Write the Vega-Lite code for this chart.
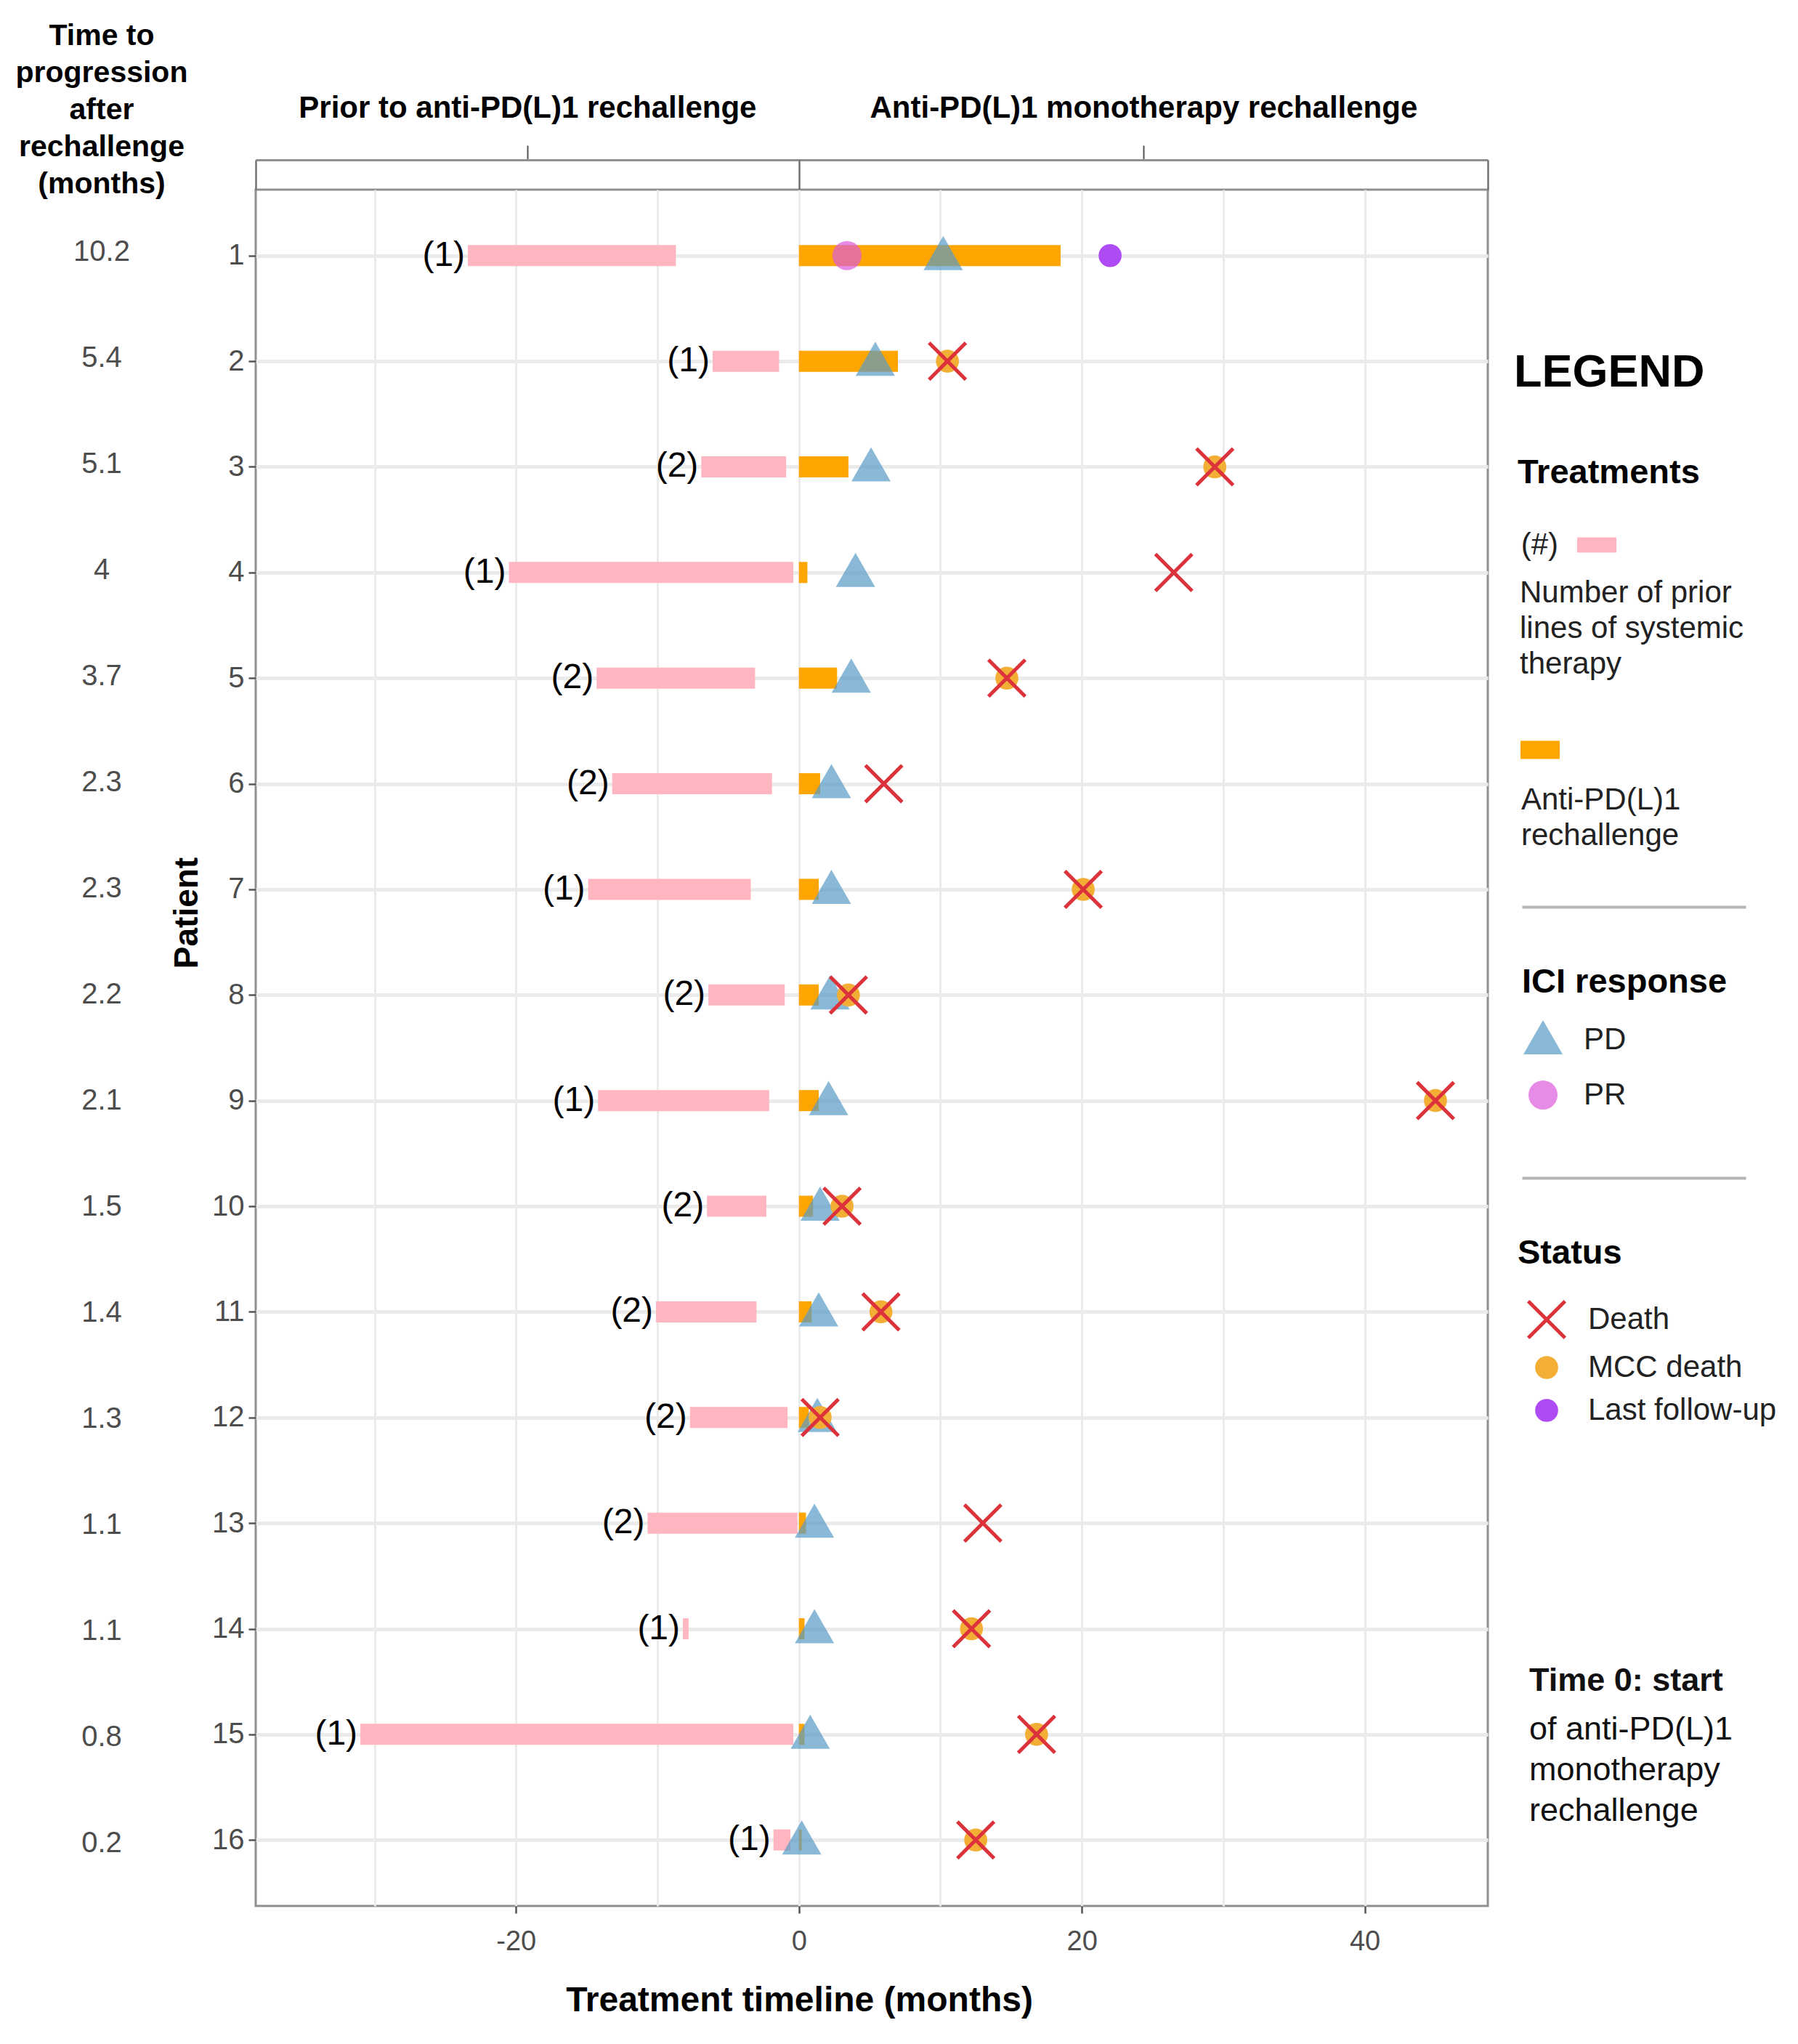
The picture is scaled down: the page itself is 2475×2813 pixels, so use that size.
{
  "$schema": "https://vega.github.io/schema/vega-lite/v6.json",
  "background": "white",
  "padding": {"left": 21, "top": 29, "right": 5, "bottom": 5},
  "config": {
    "font": "Liberation Sans",
    "view": {"stroke": null},
    "axis": {"labelFont": "Liberation Sans", "titleFont": "Liberation Sans"},
    "legend": {"titleFont": "Liberation Sans", "labelFont": "Liberation Sans", "titleFontSize": 47, "titleFontWeight": "bold", "titleColor": "#000000", "labelFontSize": 42, "labelColor": "#222222", "labelLimit": 600, "titleLimit": 600, "padding": 0},
    "title": {"font": "Liberation Sans", "color": "#000000", "subtitleFont": "Liberation Sans"}
  },
  "datasets": {
    "patients": [
      {"p": 1, "ttp": 10.2, "lines": "(1)", "pre_start": -23.4, "pre_end": -8.7, "ici_start": 0, "ici_end": 18.5},
      {"p": 2, "ttp": 5.4, "lines": "(1)", "pre_start": -6.1, "pre_end": -1.4, "ici_start": 0, "ici_end": 7.0},
      {"p": 3, "ttp": 5.1, "lines": "(2)", "pre_start": -6.9, "pre_end": -0.9, "ici_start": 0, "ici_end": 3.5},
      {"p": 4, "ttp": 4, "lines": "(1)", "pre_start": -20.5, "pre_end": -0.4, "ici_start": 0, "ici_end": 0.6},
      {"p": 5, "ttp": 3.7, "lines": "(2)", "pre_start": -14.3, "pre_end": -3.1, "ici_start": 0, "ici_end": 2.7},
      {"p": 6, "ttp": 2.3, "lines": "(2)", "pre_start": -13.2, "pre_end": -1.9, "ici_start": 0, "ici_end": 1.5},
      {"p": 7, "ttp": 2.3, "lines": "(1)", "pre_start": -14.9, "pre_end": -3.4, "ici_start": 0, "ici_end": 1.4},
      {"p": 8, "ttp": 2.2, "lines": "(2)", "pre_start": -6.4, "pre_end": -1.0, "ici_start": 0, "ici_end": 1.4},
      {"p": 9, "ttp": 2.1, "lines": "(1)", "pre_start": -14.2, "pre_end": -2.1, "ici_start": 0, "ici_end": 1.4},
      {"p": 10, "ttp": 1.5, "lines": "(2)", "pre_start": -6.5, "pre_end": -2.3, "ici_start": 0, "ici_end": 1.0},
      {"p": 11, "ttp": 1.4, "lines": "(2)", "pre_start": -10.1, "pre_end": -3.0, "ici_start": 0, "ici_end": 0.9},
      {"p": 12, "ttp": 1.3, "lines": "(2)", "pre_start": -7.7, "pre_end": -0.8, "ici_start": 0, "ici_end": 0.7},
      {"p": 13, "ttp": 1.1, "lines": "(2)", "pre_start": -10.7, "pre_end": -0.1, "ici_start": 0, "ici_end": 0.5},
      {"p": 14, "ttp": 1.1, "lines": "(1)", "pre_start": -8.2, "pre_end": -7.8, "ici_start": 0, "ici_end": 0.4},
      {"p": 15, "ttp": 0.8, "lines": "(1)", "pre_start": -31.0, "pre_end": -0.4, "ici_start": 0, "ici_end": 0.4},
      {"p": 16, "ttp": 0.2, "lines": "(1)", "pre_start": -1.8, "pre_end": -0.6, "ici_start": 0, "ici_end": 0.2}
    ],
    "resp": [
      {"p": 1, "x": 3.4, "response": "PR"},
      {"p": 1, "x": 10.2, "response": "PD"},
      {"p": 2, "x": 5.4, "response": "PD"},
      {"p": 3, "x": 5.1, "response": "PD"},
      {"p": 4, "x": 4.0, "response": "PD"},
      {"p": 5, "x": 3.7, "response": "PD"},
      {"p": 6, "x": 2.3, "response": "PD"},
      {"p": 7, "x": 2.3, "response": "PD"},
      {"p": 8, "x": 2.2, "response": "PD"},
      {"p": 9, "x": 2.1, "response": "PD"},
      {"p": 10, "x": 1.5, "response": "PD"},
      {"p": 11, "x": 1.4, "response": "PD"},
      {"p": 12, "x": 1.3, "response": "PD"},
      {"p": 13, "x": 1.1, "response": "PD"},
      {"p": 14, "x": 1.1, "response": "PD"},
      {"p": 15, "x": 0.8, "response": "PD"},
      {"p": 16, "x": 0.2, "response": "PD"}
    ],
    "status": [
      {"p": 2, "x": 10.5, "status": "MCC death"},
      {"p": 3, "x": 29.4, "status": "MCC death"},
      {"p": 5, "x": 14.7, "status": "MCC death"},
      {"p": 7, "x": 20.1, "status": "MCC death"},
      {"p": 8, "x": 3.5, "status": "MCC death"},
      {"p": 9, "x": 45.0, "status": "MCC death"},
      {"p": 10, "x": 3.05, "status": "MCC death"},
      {"p": 11, "x": 5.8, "status": "MCC death"},
      {"p": 12, "x": 1.5, "status": "MCC death"},
      {"p": 14, "x": 12.2, "status": "MCC death"},
      {"p": 15, "x": 16.8, "status": "MCC death"},
      {"p": 16, "x": 12.5, "status": "MCC death"},
      {"p": 2, "x": 10.5, "status": "Death"},
      {"p": 3, "x": 29.4, "status": "Death"},
      {"p": 4, "x": 26.5, "status": "Death"},
      {"p": 5, "x": 14.7, "status": "Death"},
      {"p": 6, "x": 6.0, "status": "Death"},
      {"p": 7, "x": 20.1, "status": "Death"},
      {"p": 8, "x": 3.5, "status": "Death"},
      {"p": 9, "x": 45.0, "status": "Death"},
      {"p": 10, "x": 3.05, "status": "Death"},
      {"p": 11, "x": 5.8, "status": "Death"},
      {"p": 12, "x": 1.5, "status": "Death"},
      {"p": 13, "x": 13.0, "status": "Death"},
      {"p": 14, "x": 12.2, "status": "Death"},
      {"p": 15, "x": 16.8, "status": "Death"},
      {"p": 16, "x": 12.5, "status": "Death"},
      {"p": 1, "x": 22.0, "status": "Last follow-up"}
    ]
  },
  "title": {"text": "LEGEND", "anchor": "start", "frame": "group", "align": "left", "offset": 0, "dx": 2034, "dy": 516, "fontSize": 63, "fontWeight": "bold", "color": "#000000"},
  "bounds": "flush",
  "spacing": 122,
  "hconcat": [
    {
      "width": 180,
      "height": 2362,
      "data": {"name": "patients"},
      "title": {"text": ["Time to", "progression", "after", "rechallenge", "(months)"], "anchor": "middle", "fontSize": 41, "fontWeight": "bold", "lineHeight": 51, "offset": -14, "color": "#000000"},
      "mark": {"type": "text", "fontSize": 40, "color": "#4D4D4D", "baseline": "middle"},
      "encoding": {
        "y": {"field": "p", "type": "quantitative", "scale": {"domain": [0.41, 16.59], "reverse": true, "nice": false, "zero": false}, "axis": null},
        "text": {"field": "ttp", "type": "nominal"}
      }
    },
    {
      "width": 1696,
      "height": 2362,
      "view": {"stroke": "#8F8F8F", "strokeWidth": 3},
      "title": {"text": "Time 0: start", "subtitle": ["of anti-PD(L)1", "monotherapy", "rechallenge"], "orient": "bottom", "anchor": "end", "frame": "group", "align": "left", "dx": 57, "dy": -490, "fontSize": 45, "fontWeight": "bold", "color": "#111111", "subtitleFontSize": 45, "subtitleColor": "#111111", "subtitleLineHeight": 56, "subtitlePadding": 22},
      "layer": [
        {
          "data": {"name": "patients"},
          "mark": {"type": "bar", "size": 29},
          "encoding": {
            "y": {"field": "p", "type": "quantitative", "scale": {"domain": [0.41, 16.59], "reverse": true, "nice": false, "zero": false},
              "axis": {"orient": "left", "title": "Patient", "values": [1, 2, 3, 4, 5, 6, 7, 8, 9, 10, 11, 12, 13, 14, 15, 16], "format": "d", "domain": false, "grid": true, "gridColor": "#EBEBEB", "gridWidth": 5, "ticks": true, "tickSize": 10, "tickWidth": 2.5, "tickColor": "#555555", "labelFontSize": 40, "labelColor": "#4D4D4D", "labelPadding": 6, "titleFontSize": 46, "titleFontWeight": "bold", "titleColor": "#000000", "titlePadding": 10, "titleY": 995}},
            "x": {"field": "pre_start", "type": "quantitative", "scale": {"domain": [-38.4, 48.7], "nice": false, "zero": false},
              "axis": {"orient": "top", "offset": 41, "values": [-19.2, 24.35], "labelExpr": "datum.value < 0 ? 'Prior to anti-PD(L)1 rechallenge' : 'Anti-PD(L)1 monotherapy rechallenge'", "grid": false, "domain": true, "domainColor": "#8F8F8F", "domainWidth": 3, "tickSize": 20, "tickWidth": 2, "tickColor": "#555555", "labelFontSize": 42, "labelFontWeight": "bold", "labelColor": "#000000", "labelPadding": 30, "labelLimit": 1200, "labelOverlap": false, "labelFlush": false, "title": null}},
            "x2": {"field": "pre_end"},
            "color": {"datum": "(#)", "scale": {"range": ["#FFB6C1"]},
              "legend": {"title": "Treatments", "orient": "none", "legendX": 1737, "legendY": 367, "symbolType": "M-1,-0.39H1V0.39H-1Z", "symbolSize": 2916, "symbolOffset": 81, "labelAlign": "right", "labelOffset": -81, "titlePadding": 47}}
          }
        },
        {
          "data": {"name": "patients"},
          "mark": {"type": "bar", "size": 29},
          "encoding": {
            "y": {"field": "p", "type": "quantitative", "scale": {"domain": [0.41, 16.59], "reverse": true, "nice": false, "zero": false},
              "axis": {"orient": "right", "offset": 47, "values": [7.164, 9.733], "labels": false, "domain": false, "grid": false, "ticks": true, "tickSize": 308, "tickWidth": 4, "tickColor": "#B5B5B5", "title": null}},
            "x": {"field": "ici_start", "type": "quantitative", "scale": {"domain": [-38.4, 48.7], "nice": false, "zero": false},
              "axis": {"orient": "top", "offset": 0, "values": [-38.4, 0, 48.7], "labels": false, "domain": false, "grid": false, "tickSize": 41, "tickWidth": 2.5, "tickColor": "#707070", "title": null}},
            "x2": {"field": "ici_end"},
            "color": {"datum": "Anti-PD(L)1 rechallenge", "scale": {"range": ["#FFA500"]},
              "legend": {"title": ["Number of prior", "lines of systemic", "therapy"], "titleFontWeight": "normal", "titleFontSize": 42, "titleColor": "#222222", "titleLineHeight": 49, "orient": "none", "legendX": 1740, "legendY": 535, "symbolType": "M-1,-0.46H1V0.46H-1Z", "symbolSize": 2916, "symbolOffset": 0, "labelBaseline": "top", "labelAlign": "left", "labelOffset": -54, "labelExpr": "['', 'Anti-PD(L)1', 'rechallenge']", "titlePadding": 68,
                "encode": {"labels": {"update": {"lineHeight": {"value": 49}}}}}}
          }
        },
        {
          "data": {"name": "patients"},
          "mark": {"type": "text", "align": "right", "baseline": "middle", "dx": -4, "fontSize": 48, "color": "#000000"},
          "encoding": {
            "y": {"field": "p", "type": "quantitative", "scale": {"domain": [0.41, 16.59], "reverse": true, "nice": false, "zero": false}, "axis": null},
            "x": {"field": "pre_start", "type": "quantitative", "scale": {"domain": [-38.4, 48.7], "nice": false, "zero": false}, "axis": null},
            "text": {"field": "lines", "type": "nominal"}
          }
        },
        {
          "data": {"name": "resp"},
          "mark": {"type": "point", "filled": true, "opacity": 0.7, "size": 1600},
          "encoding": {
            "y": {"field": "p", "type": "quantitative", "scale": {"domain": [0.41, 16.59], "reverse": true, "nice": false, "zero": false}, "axis": null},
            "x": {"field": "x", "type": "quantitative", "scale": {"domain": [-38.4, 48.7], "nice": false, "zero": false},
              "axis": {"orient": "bottom", "values": [-30, -20, -10, 0, 10, 20, 30, 40], "labelExpr": "datum.value % 20 === 0 ? '' + datum.value : ''", "grid": true, "gridColor": "#EBEBEB", "gridWidth": 3, "domain": false, "tickSize": 10, "tickWidth": 2.5, "tickColor": "#555555", "tickOpacity": {"condition": {"test": "datum.value % 20 !== 0", "value": 0}, "value": 1}, "labelFontSize": 38, "labelColor": "#4D4D4D", "labelPadding": 20, "title": "Treatment timeline (months)", "titleFontSize": 48, "titleFontWeight": "bold", "titleColor": "#000000", "titlePadding": 38, "titleX": 748}},
            "shape": {"field": "response", "type": "nominal", "scale": {"domain": ["PD", "PR"], "range": ["M0,-1.35L1.35,1L-1.35,1Z", "circle"]},
              "legend": {"title": "ICI response", "orient": "none", "legendX": 1743, "legendY": 1068, "symbolSize": 1600, "symbolOffset": 8, "labelOffset": 35, "titlePadding": 34, "rowPadding": 34}},
            "color": {"field": "response", "type": "nominal", "scale": {"domain": ["PD", "PR"], "range": ["#589BC6", "#DB5BDB"]},
              "legend": {"title": "ICI response", "orient": "none", "legendX": 1743, "legendY": 1068, "symbolSize": 1600, "symbolOffset": 8, "labelOffset": 35, "titlePadding": 34, "rowPadding": 34}}
          }
        },
        {
          "data": {"name": "status"},
          "mark": {"type": "point", "filled": true, "opacity": 1, "size": 1000},
          "encoding": {
            "y": {"field": "p", "type": "quantitative", "scale": {"domain": [0.41, 16.59], "reverse": true, "nice": false, "zero": false}, "axis": null},
            "x": {"field": "x", "type": "quantitative", "scale": {"domain": [-38.4, 48.7], "nice": false, "zero": false}, "axis": null},
            "shape": {"field": "status", "type": "nominal", "scale": {"domain": ["Death", "MCC death", "Last follow-up"], "range": ["M-1.488,-1.712L1.712,1.488L1.488,1.712L-1.712,-1.488ZM1.712,-1.488L-1.488,1.712L-1.712,1.488L1.488,-1.712Z", "circle", "circle"]},
              "legend": {"title": "Status", "orient": "none", "legendX": 1737, "legendY": 1441, "symbolSize": 1000, "symbolOffset": 19, "labelOffset": 36, "titlePadding": 46, "rowPadding": 17}},
            "color": {"field": "status", "type": "nominal", "scale": {"domain": ["Death", "MCC death", "Last follow-up"], "range": ["#DC323C", "#F2AE35", "#AE4BF5"]},
              "legend": {"title": "Status", "orient": "none", "legendX": 1737, "legendY": 1441, "symbolSize": 1000, "symbolOffset": 19, "labelOffset": 36, "titlePadding": 46, "rowPadding": 17}}
          }
        }
      ],
      "resolve": {
        "scale": {"x": "independent", "color": "independent", "shape": "independent"},
        "axis": {"x": "independent", "y": "independent"},
        "legend": {"color": "independent", "shape": "independent"}
      }
    }
  ]
}
